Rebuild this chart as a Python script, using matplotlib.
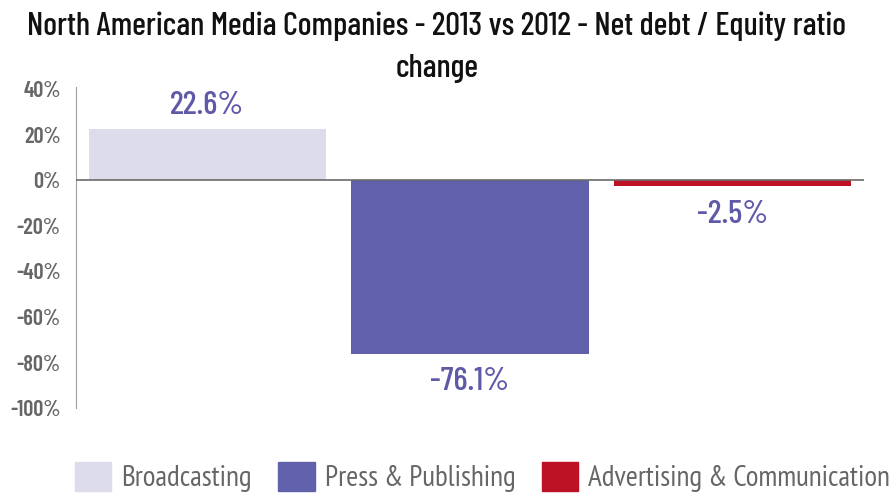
import matplotlib
matplotlib.use("Agg")
import matplotlib.pyplot as plt
from matplotlib import font_manager
from matplotlib.patches import Patch

installed = {f.name for f in font_manager.fontManager.ttflist}


def pick(*cands):
    for c in cands:
        if c in installed:
            return [c, "DejaVu Sans"]
    return ["DejaVu Sans"]


din = pick("Barlow Condensed", "Roboto Condensed", "Oswald")
narrow = pick("PT Sans Narrow", "Open Sans Condensed", "Archivo Narrow", "Barlow Semi Condensed")

categories = ["Broadcasting", "Press & Publishing", "Advertising & Communication"]
changes = [22.6, -76.1, -2.5]
colors = ["#dcdcea", "#6160ab", "#bd1126"]
yticks = [40, 20, 0, -20, -40, -60, -80, -100]
title_lines = ["North American Media Companies - 2013 vs 2012 - Net debt / Equity ratio", "change"]

fig = plt.figure(figsize=(8.95, 4.93), dpi=100)
ax = fig.add_axes([0.085, 0.172, 0.88, 0.652])

x = range(len(categories))
ax.bar(x, changes, width=0.905, color=colors, zorder=2)
ax.axhline(0, color="#6b6b6b", lw=1.2, zorder=3)

for i, v in enumerate(changes):
    off = 4 if v > 0 else -6
    ax.text(i, v + off, f"{v:.1f}%", ha="center", va="bottom" if v > 0 else "top",
            fontsize=24, color="#5f5aa8", family=din, fontweight="medium")

ax.set_xlim(-0.5, 2.5)
ax.set_ylim(-100, 41)
ax.set_yticks(yticks)
ax.set_yticklabels([f"{t}%" for t in yticks], fontsize=16, color="#666666",
                   family=din, fontweight="semibold")
ax.set_xticks([])
for s in ["top", "right", "bottom"]:
    ax.spines[s].set_visible(False)
ax.spines["left"].set_color("#a0a0a0")
ax.tick_params(axis="y", length=0, pad=11)

# two-line title, one text per line
for line, ty in zip(title_lines, [0.947, 0.862]):
    fig.text(0.488, ty, line, ha="center", va="center", fontsize=23.5, color="#111111",
             family=din, fontweight="medium")

handles = [Patch(color=c) for c in colors]
fig.legend(handles, categories, loc="lower center", bbox_to_anchor=(0.539, -0.052), ncol=3,
           frameon=False, prop={"family": narrow, "size": 21}, labelcolor="#666666",
           handlelength=1.25, handleheight=1.2, columnspacing=0.9, handletextpad=0.35)

fig.savefig("out.png", dpi=100)
